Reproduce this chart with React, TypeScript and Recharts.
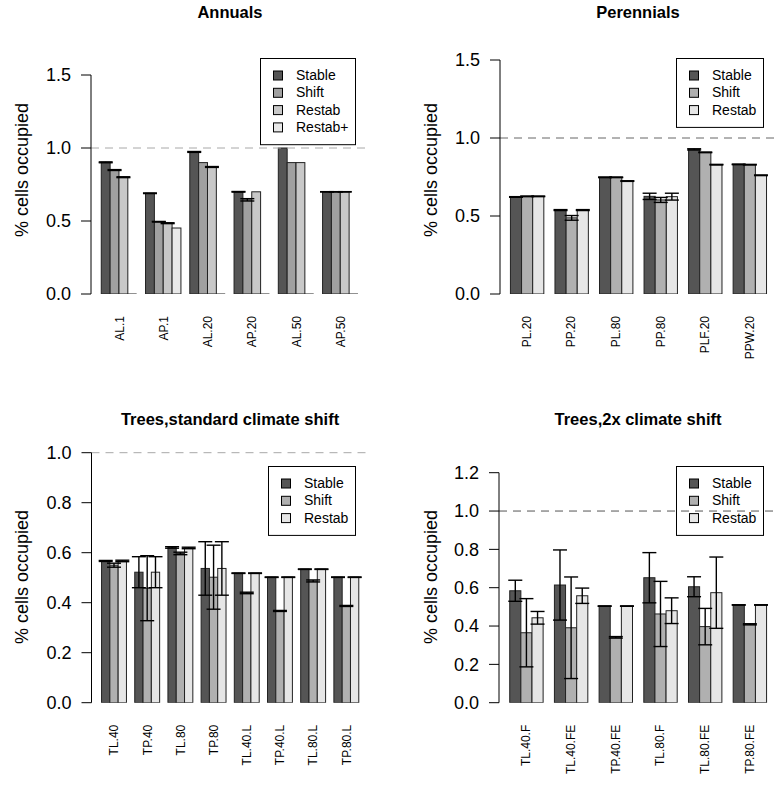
import React from 'react';
import { BarChart, Bar, XAxis, YAxis, ReferenceLine, ErrorBar } from 'recharts';

const FONT = '"Liberation Sans", Arial, Helvetica, sans-serif';

// ---------- Annuals ----------
const annualsCategories = ['AL.1', 'AP.1', 'AL.20', 'AP.20', 'AL.50', 'AP.50'];
const annualsStable = [0.902, 0.69, 0.973, 0.70, 1.0, 0.70];
const annualsStableErr = [0.003, 0.002, 0.003, 0.002, null, 0.001];
const annualsShift = [0.849, 0.495, 0.90, 0.645, 0.90, 0.70];
const annualsShiftErr = [0.003, 0.002, null, 0.008, null, 0.001];
const annualsRestab = [0.80, 0.485, 0.87, 0.70, 0.90, 0.70];
const annualsRestabErr = [0.003, 0.003, 0.003, null, null, 0.001];
const annualsRestabPlus = [0, 0.452, 0, 0, 0, 0];
const annualsRestabPlusErr = [null, null, null, null, null, null];

// ---------- Perennials ----------
const perennialsCategories = ['PL.20', 'PP.20', 'PL.80', 'PP.80', 'PLF.20', 'PPW.20'];
const perennialsStable = [0.622, 0.538, 0.748, 0.626, 0.927, 0.831];
const perennialsStableErr = [0.002, 0.003, 0.002, 0.02, 0.004, 0.002];
const perennialsShift = [0.626, 0.488, 0.748, 0.603, 0.908, 0.829];
const perennialsShiftErr = [0.002, 0.015, 0.002, 0.016, 0.002, 0.002];
const perennialsRestab = [0.626, 0.538, 0.724, 0.624, 0.829, 0.761];
const perennialsRestabErr = [0.002, 0.003, 0.002, 0.022, 0.002, 0.002];

// ---------- Trees, standard climate shift ----------
const treesStdCategories = ['TL.40', 'TP.40', 'TL.80', 'TP.80', 'TL.40.L', 'TP.40.L', 'TL.80.L', 'TP.80.L'];
const treesStdStable = [0.567, 0.522, 0.621, 0.537, 0.518, 0.502, 0.534, 0.502];
const treesStdStableErr = [0.002, 0.062, 0.003, 0.107, 0.001, 0.001, 0.001, 0.001];
const treesStdShift = [0.55, 0.458, 0.597, 0.502, 0.439, 0.367, 0.487, 0.387];
const treesStdShiftErr = [0.008, 0.13, 0.005, 0.128, 0.003, 0.002, 0.004, 0.002];
const treesStdRestab = [0.567, 0.522, 0.619, 0.537, 0.518, 0.502, 0.534, 0.502];
const treesStdRestabErr = [0.003, 0.062, 0.003, 0.107, 0.001, 0.001, 0.001, 0.001];

// ---------- Trees, 2x climate shift ----------
const trees2xCategories = ['TL.40.F', 'TL.40.FE', 'TP.40.FE', 'TL.80.F', 'TL.80.FE', 'TP.80.FE'];
const trees2xStable = [0.584, 0.614, 0.504, 0.652, 0.605, 0.51];
const trees2xStableErr = [0.055, 0.183, 0.001, 0.131, 0.052, 0.001];
const trees2xShift = [0.365, 0.391, 0.341, 0.463, 0.397, 0.409];
const trees2xShiftErr = [0.178, 0.265, 0.004, 0.17, 0.095, 0.003];
const trees2xRestab = [0.443, 0.558, 0.504, 0.48, 0.574, 0.51];
const trees2xRestabErr = [0.033, 0.04, 0.001, 0.067, 0.186, 0.001];

const seriesNames4 = ['Stable', 'Shift', 'Restab', 'Restab+'];
const seriesNames3 = ['Stable', 'Shift', 'Restab'];
const colors4 = ['#555555', '#a0a0a0', '#c8c8c8', '#e8e8e8'];
const colors3 = ['#555555', '#b0b0b0', '#e6e6e6'];

type Series = { name: string; values: number[]; errs: (number | null)[] };

function buildRows(categories: string[], series: Series[]) {
  return categories.map((c, i) => {
    const row: any = { cat: c };
    series.forEach((s, k) => {
      row['s' + k] = s.values[i];
      const e = s.errs[i];
      row['e' + k] = e == null ? null : [e, e];
    });
    return row;
  });
}

const BarShape = (props: any) => {
  const { x, y, width, height, fill } = props;
  if (!height || Math.abs(height) < 0.5) {
    return <line x1={x} x2={x + width} y1={y} y2={y} stroke="#222" strokeWidth={1} />;
  }
  return <rect x={x} y={y} width={width} height={height} fill={fill} stroke="#222" strokeWidth={1} />;
};

const makeTick = (offset: number) => (props: any) => {
  const { x, y, payload } = props;
  const ty = y + offset;
  return (
    <text
      x={x}
      y={ty}
      transform={`rotate(-90 ${x} ${ty})`}
      textAnchor="end"
      dy="0.35em"
      fontSize={12}
      fontFamily={FONT}
      fill="#000"
    >
      {payload.value}
    </text>
  );
};

type PanelProps = {
  left: number;
  top: number;
  width: number;
  height: number;
  rows: any[];
  n: number;
  colors: string[];
  yMax: number;
  yTicks: number[];
  plotL: number;
  plotR: number;
  plotT: number;
  plotB: number;
  padL: number;
  padR: number;
  barSize: number;
  dashColor: string;
};

const XH = 40;

function Panel(p: PanelProps) {
  const yW = p.plotL - p.left;
  const margin = {
    top: p.plotT - p.top,
    right: p.left + p.width - p.plotR,
    left: 0,
    bottom: p.top + p.height - p.plotB - XH,
  };
  const keys = Array.from({ length: p.n }, (_, k) => k);
  return (
    <div style={{ position: 'absolute', left: p.left, top: p.top }}>
      <BarChart
        width={p.width}
        height={p.height}
        data={p.rows}
        margin={margin}
        barGap={0}
        barSize={p.barSize}
      >
        <XAxis
          dataKey="cat"
          height={XH}
          interval={0}
          axisLine={false}
          tickLine={false}
          tickSize={0}
          tickMargin={0}
          padding={{ left: p.padL, right: p.padR }}
          tick={makeTick(22)}
        />
        <YAxis
          width={yW}
          type="number"
          domain={[0, p.yMax]}
          ticks={p.yTicks}
          allowDataOverflow
          interval={0}
          tickFormatter={(v: number) => v.toFixed(1)}
          tick={{ fontSize: 18, fill: '#000', fontFamily: FONT }}
          tickSize={10}
          tickMargin={10}
          axisLine={{ stroke: '#000', strokeWidth: 1 }}
          tickLine={{ stroke: '#000', strokeWidth: 1 }}
        />
        {keys.map((k) => (
          <Bar
            key={k}
            dataKey={'s' + k}
            fill={p.colors[k]}
            isAnimationActive={false}
            shape={BarShape}
          >
            <ErrorBar dataKey={'e' + k} width={7} stroke="#000" strokeWidth={1.4} direction="y" />
          </Bar>
        ))}
        <ReferenceLine y={1} stroke={p.dashColor} strokeDasharray="8 6" strokeWidth={1} />
      </BarChart>
    </div>
  );
}

type LegendSpec = { x: number; y: number; w: number; names: string[]; colors: string[] };

function LegendBox({ x, y, w, names, colors }: LegendSpec) {
  const rowH = 17.3;
  const h = names.length * rowH + 17;
  return (
    <g>
      <rect x={x + 0.5} y={y + 0.5} width={w} height={h} fill="none" stroke="#000" strokeWidth={1} />
      {names.map((nm, i) => {
        const cy = y + 17 + i * rowH;
        return (
          <g key={nm}>
            <rect x={x + 13.5} y={cy - 4} width={9} height={9} fill={colors[i]} stroke="#000" strokeWidth={1} />
            <text x={x + 36} y={cy} dy="0.35em" fontSize={14} fontFamily={FONT} fill="#000">
              {nm}
            </text>
          </g>
        );
      })}
    </g>
  );
}

const annualsRows = buildRows(annualsCategories, [
  { name: 'Stable', values: annualsStable, errs: annualsStableErr },
  { name: 'Shift', values: annualsShift, errs: annualsShiftErr },
  { name: 'Restab', values: annualsRestab, errs: annualsRestabErr },
  { name: 'Restab+', values: annualsRestabPlus, errs: annualsRestabPlusErr },
]);
const perennialsRows = buildRows(perennialsCategories, [
  { name: 'Stable', values: perennialsStable, errs: perennialsStableErr },
  { name: 'Shift', values: perennialsShift, errs: perennialsShiftErr },
  { name: 'Restab', values: perennialsRestab, errs: perennialsRestabErr },
]);
const treesStdRows = buildRows(treesStdCategories, [
  { name: 'Stable', values: treesStdStable, errs: treesStdStableErr },
  { name: 'Shift', values: treesStdShift, errs: treesStdShiftErr },
  { name: 'Restab', values: treesStdRestab, errs: treesStdRestabErr },
]);
const trees2xRows = buildRows(trees2xCategories, [
  { name: 'Stable', values: trees2xStable, errs: trees2xStableErr },
  { name: 'Shift', values: trees2xShift, errs: trees2xShiftErr },
  { name: 'Restab', values: trees2xRestab, errs: trees2xRestabErr },
]);

export default function App() {
  const titleStyle = { fontSize: 16.5, fontWeight: 700, fontFamily: FONT };
  const ylab = (x: number, y: number) => (
    <text
      x={x}
      y={y}
      transform={`rotate(-90 ${x} ${y})`}
      textAnchor="middle"
      dy="0.35em"
      fontSize={18}
      fontFamily={FONT}
      fill="#000"
    >
      % cells occupied
    </text>
  );
  return (
    <div
      style={{
        position: 'absolute',
        left: 0,
        top: 0,
        width: 782,
        height: 786,
        background: '#fff',
        overflow: 'hidden',
      }}
    >
      <Panel
        left={0}
        top={0}
        width={391}
        height={393}
        rows={annualsRows}
        n={4}
        colors={colors4}
        yMax={1.5}
        yTicks={[0, 0.5, 1, 1.5]}
        plotL={91}
        plotR={369}
        plotT={75}
        plotB={294}
        padL={6.27}
        padR={6.17}
        barSize={8.85}
        dashColor="#a8a8a8"
      />
      <Panel
        left={391}
        top={0}
        width={391}
        height={393}
        rows={perennialsRows}
        n={3}
        colors={colors3}
        yMax={1.5}
        yTicks={[0, 0.5, 1, 1.5]}
        plotL={500}
        plotR={776.5}
        plotT={60}
        plotB={294}
        padL={4.43}
        padR={4.83}
        barSize={11.13}
        dashColor="#666666"
      />
      <Panel
        left={0}
        top={393}
        width={391}
        height={393}
        rows={treesStdRows}
        n={3}
        colors={colors3}
        yMax={1.0}
        yTicks={[0, 0.2, 0.4, 0.6, 0.8, 1.0]}
        plotL={91.5}
        plotR={369}
        plotT={452.7}
        plotB={702.7}
        padL={6.05}
        padR={5.93}
        barSize={8.3}
        dashColor="#a8a8a8"
      />
      <Panel
        left={391}
        top={393}
        width={391}
        height={393}
        rows={trees2xRows}
        n={3}
        colors={colors3}
        yMax={1.2}
        yTicks={[0, 0.2, 0.4, 0.6, 0.8, 1.0, 1.2]}
        plotL={499}
        plotR={777}
        plotT={472.7}
        plotB={702.7}
        padL={4.73}
        padR={5.13}
        barSize={11.13}
        dashColor="#555555"
      />
      <svg
        width={782}
        height={786}
        style={{ position: 'absolute', left: 0, top: 0, pointerEvents: 'none' }}
      >
        <text x={230} y={17.5} textAnchor="middle" style={titleStyle}>Annuals</text>
        <text x={638} y={17.5} textAnchor="middle" style={titleStyle}>Perennials</text>
        <text x={230} y={425} textAnchor="middle" style={titleStyle}>Trees,standard climate shift</text>
        <text x={638} y={425} textAnchor="middle" style={titleStyle}>Trees,2x climate shift</text>
        {ylab(22, 170)}
        {ylab(431, 170)}
        {ylab(22, 577)}
        {ylab(431, 577)}
        <LegendBox x={260} y={58} w={95} names={seriesNames4} colors={colors4} />
        <LegendBox x={676} y={58} w={87} names={seriesNames3} colors={colors3} />
        <LegendBox x={268} y={466} w={87} names={seriesNames3} colors={colors3} />
        <LegendBox x={676} y={466} w={87} names={seriesNames3} colors={colors3} />
      </svg>
    </div>
  );
}
